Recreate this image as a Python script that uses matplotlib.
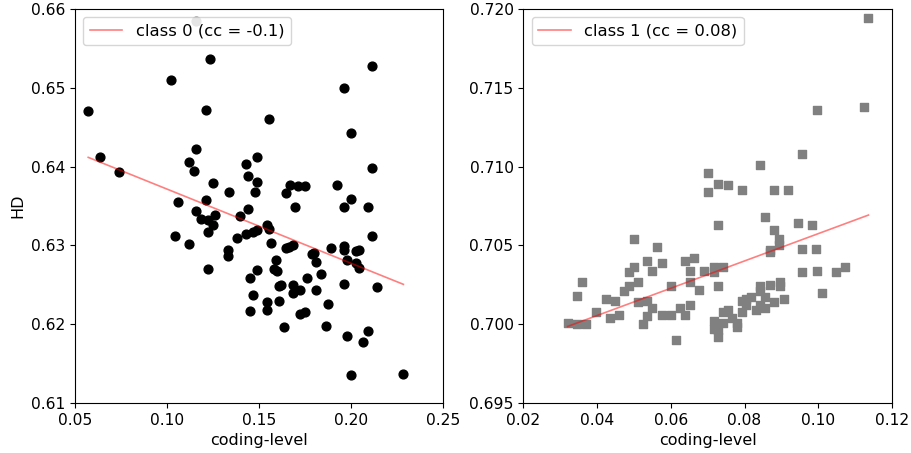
import numpy as np
import matplotlib
matplotlib.use('Agg')
import matplotlib.pyplot as plt

# ── data ──────────────────────────────────────────────────────────────────────

cl0_x = [0.0572, 0.1020, 0.1235, 0.2116, 0.1964, 0.1210, 0.1554, 0.2002, 0.0636, 0.0737,
         0.1159, 0.1121, 0.1147, 0.1248, 0.1339, 0.1428, 0.1440, 0.1491, 0.1491, 0.1480,
         0.1645, 0.1670, 0.1710, 0.1750, 0.1925, 0.2116, 0.2002, 0.1058, 0.1210, 0.1440,
         0.1697, 0.1964, 0.2091, 0.1159, 0.1262, 0.1185, 0.1223, 0.1248, 0.1223, 0.1045,
         0.1121, 0.1399, 0.1379, 0.1429, 0.1466, 0.1491, 0.1543, 0.1554, 0.1568, 0.1332,
         0.1332, 0.1224, 0.1594, 0.1582, 0.1596, 0.1492, 0.1452, 0.1466, 0.1452, 0.1543,
         0.1543, 0.1607, 0.1607, 0.1620, 0.1634, 0.1645, 0.1661, 0.1686, 0.1685, 0.1685,
         0.1723, 0.1722, 0.1750, 0.1761, 0.1787, 0.1801, 0.1812, 0.1812, 0.1837, 0.1890,
         0.1875, 0.1863, 0.1964, 0.1964, 0.1977, 0.1964, 0.2027, 0.2041, 0.2027, 0.2041,
         0.2116, 0.2143, 0.1977, 0.2091, 0.2066, 0.2002, 0.2285]
cl0_hd = [0.6471, 0.6510, 0.6536, 0.6528, 0.6500, 0.6472, 0.6461, 0.6442, 0.6412, 0.6393,
          0.6422, 0.6406, 0.6395, 0.6379, 0.6368, 0.6403, 0.6388, 0.6412, 0.6381, 0.6368,
          0.6367, 0.6376, 0.6375, 0.6375, 0.6376, 0.6398, 0.6359, 0.6355, 0.6357, 0.6346,
          0.6349, 0.6349, 0.6349, 0.6343, 0.6339, 0.6333, 0.6332, 0.6326, 0.6317, 0.6312,
          0.6302, 0.6337, 0.6310, 0.6315, 0.6317, 0.6320, 0.6326, 0.6321, 0.6303, 0.6294,
          0.6287, 0.6270, 0.6282, 0.6270, 0.6267, 0.6269, 0.6259, 0.6237, 0.6217, 0.6228,
          0.6218, 0.6230, 0.6248, 0.6250, 0.6196, 0.6297, 0.6298, 0.6300, 0.6250, 0.6240,
          0.6243, 0.6213, 0.6215, 0.6258, 0.6289, 0.6290, 0.6279, 0.6244, 0.6264, 0.6297,
          0.6226, 0.6198, 0.6299, 0.6294, 0.6281, 0.6251, 0.6293, 0.6294, 0.6278, 0.6271,
          0.6312, 0.6247, 0.6185, 0.6191, 0.6178, 0.6135, 0.6137]

# single outlier drawn in grey
out_x = [0.1158]
out_hd = [0.6585]

cl1_x = [0.1136, 0.1124, 0.0996, 0.0957, 0.0842, 0.0702, 0.0702, 0.0728, 0.0754, 0.0792,
         0.0880, 0.0919, 0.0856, 0.0728, 0.0945, 0.0983, 0.0881, 0.0894, 0.0894, 0.0869,
         0.0957, 0.0995, 0.0320, 0.0346, 0.0371, 0.0346, 0.0358, 0.0396, 0.0423, 0.0434,
         0.0448, 0.0460, 0.0473, 0.0486, 0.0486, 0.0499, 0.0499, 0.0511, 0.0511, 0.0536,
         0.0549, 0.0524, 0.0536, 0.0536, 0.0549, 0.0562, 0.0576, 0.0576, 0.0601, 0.0601,
         0.0614, 0.0626, 0.0639, 0.0639, 0.0652, 0.0652, 0.0652, 0.0664, 0.0677, 0.0690,
         0.0716, 0.0716, 0.0741, 0.0728, 0.0716, 0.0716, 0.0728, 0.0728, 0.0741, 0.0741,
         0.0755, 0.0766, 0.0779, 0.0779, 0.0792, 0.0792, 0.0804, 0.0804, 0.0817, 0.0830,
         0.0842, 0.0842, 0.0842, 0.0855, 0.0855, 0.0868, 0.0868, 0.0895, 0.0895, 0.0880,
         0.0908, 0.0957, 0.0996, 0.1009, 0.1047, 0.1073]
cl1_hd = [0.7194, 0.7138, 0.7136, 0.7108, 0.7101, 0.7096, 0.7084, 0.7089, 0.7088, 0.7085,
          0.7085, 0.7085, 0.7068, 0.7063, 0.7064, 0.7063, 0.7060, 0.7054, 0.7050, 0.7047,
          0.7048, 0.7048, 0.7001, 0.7000, 0.7000, 0.7018, 0.7027, 0.7008, 0.7016, 0.7004,
          0.7015, 0.7006, 0.7021, 0.7024, 0.7033, 0.7036, 0.7054, 0.7027, 0.7014, 0.7015,
          0.7010, 0.7000, 0.7005, 0.7040, 0.7034, 0.7049, 0.7039, 0.7006, 0.7024, 0.7006,
          0.6990, 0.7010, 0.7006, 0.7040, 0.7012, 0.7027, 0.7034, 0.7042, 0.7022, 0.7034,
          0.7036, 0.7033, 0.7036, 0.7024, 0.7002, 0.6997, 0.6992, 0.6996, 0.7008, 0.7001,
          0.7009, 0.7004, 0.7001, 0.6998, 0.7008, 0.7015, 0.7016, 0.7012, 0.7017, 0.7009,
          0.7024, 0.7021, 0.7012, 0.7017, 0.7010, 0.7025, 0.7046, 0.7027, 0.7024, 0.7014,
          0.7016, 0.7033, 0.7034, 0.7020, 0.7033, 0.7036]

labels = ['class 0 (cc = -0.1)', 'class 1 (cc = 0.08)']


def fit_line(ax, x, y, label):
    x = np.asarray(x)
    k, b = np.polyfit(x, y, 1)
    xs = np.array([x.min(), x.max()])
    ax.plot(xs, k * xs + b, color='r', alpha=0.5, lw=1.2, label=label)


fig = plt.figure(figsize=(9.12, 4.53), dpi=100)
ax0 = fig.add_axes([0.0822, 0.1104, 0.4035, 0.8698])
ax1 = fig.add_axes([0.5738, 0.1104, 0.4043, 0.8698])

# class 0
ax0.scatter(cl0_x, cl0_hd, color='k', s=40)
ax0.scatter(out_x, out_hd, color='grey', s=40)
fit_line(ax0, cl0_x, cl0_hd, labels[0])
ax0.set_xlim(0.05, 0.25)
ax0.set_ylim(0.61, 0.66)
ax0.set_xticks(np.arange(0.05, 0.2501, 0.05))
ax0.set_yticks(np.arange(0.61, 0.6601, 0.01))
ax0.xaxis.set_major_formatter(plt.FormatStrFormatter('%.2f'))
ax0.yaxis.set_major_formatter(plt.FormatStrFormatter('%.2f'))
ax0.set_xlabel('coding-level', fontsize=11.5)
ax0.set_ylabel('HD', fontsize=11.5)
ax0.legend(loc='upper left', fontsize=11.8)

# class 1
ax1.scatter(cl1_x, cl1_hd, color='grey', marker='s', s=40)
fit_line(ax1, cl1_x, cl1_hd, labels[1])
ax1.set_xlim(0.02, 0.12)
ax1.set_ylim(0.695, 0.72)
ax1.set_xticks(np.arange(0.02, 0.1201, 0.02))
ax1.set_yticks(np.arange(0.695, 0.7201, 0.005))
ax1.xaxis.set_major_formatter(plt.FormatStrFormatter('%.2f'))
ax1.yaxis.set_major_formatter(plt.FormatStrFormatter('%.3f'))
ax1.set_xlabel('coding-level', fontsize=11.5)
ax1.legend(loc='upper left', fontsize=11.8)

for ax in (ax0, ax1):
    ax.tick_params(labelsize=11.2)

fig.savefig('out.png', dpi=100)
